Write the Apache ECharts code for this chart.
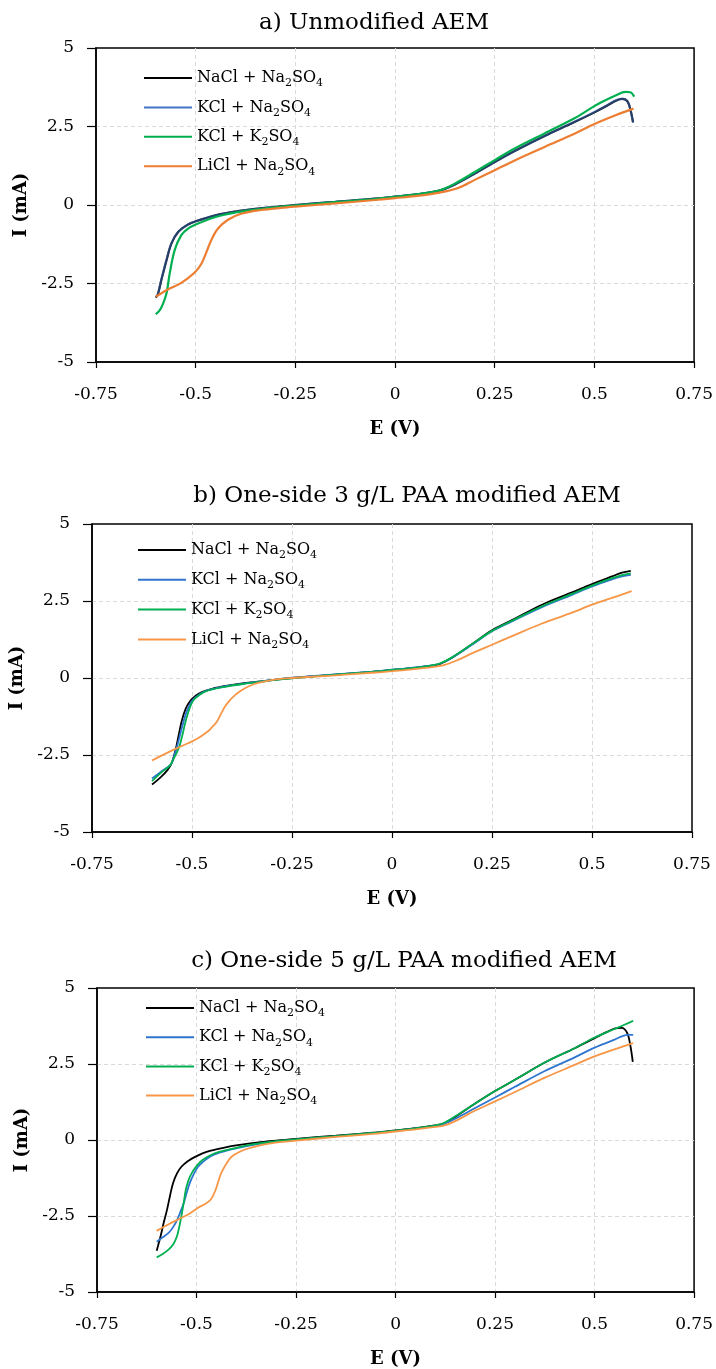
<!DOCTYPE html>
<html>
<head>
<meta charset="utf-8">
<script src="https://cdn.jsdelivr.net/npm/echarts@6/dist/echarts.min.js"></script>
<style>
  html, body { margin: 0; padding: 0; background: #fff; }
  #main { width: 716px; height: 1369px; }
</style>
</head>
<body>
<div id="main"></div>
<script>
// 数据: [E (V), I (mA)]
// a) Unmodified AEM
var NaCl_a = [[-0.6,-2.95],[-0.595,-2.85],[-0.586,-2.38],[-0.573,-1.75],[-0.561,-1.23],[-0.544,-0.86],[-0.519,-0.62],[-0.5,-0.52],[-0.45,-0.33],[-0.4,-0.21],[-0.35,-0.125],[-0.3,-0.06],[-0.25,0.0],[-0.15,0.1],[-0.05,0.2],[0,0.27],[0.05,0.33],[0.1,0.43],[0.12,0.49],[0.15,0.65],[0.2,1.0],[0.25,1.37],[0.3,1.72],[0.375,2.2],[0.45,2.64],[0.5,2.95],[0.53,3.15],[0.555,3.33],[0.57,3.38],[0.583,3.3],[0.591,3.0],[0.597,2.63]];
var KCl_a = [[-0.6,-2.93],[-0.595,-2.84],[-0.586,-2.37],[-0.573,-1.74],[-0.561,-1.22],[-0.544,-0.86],[-0.519,-0.62],[-0.5,-0.52],[-0.45,-0.33],[-0.4,-0.21],[-0.35,-0.12],[-0.3,-0.06],[-0.25,0.0],[-0.15,0.1],[-0.05,0.2],[0,0.27],[0.05,0.33],[0.1,0.43],[0.12,0.49],[0.15,0.65],[0.2,1.0],[0.25,1.37],[0.3,1.72],[0.375,2.2],[0.45,2.65],[0.5,2.96],[0.53,3.16],[0.555,3.34],[0.57,3.38],[0.583,3.3],[0.591,3.0],[0.597,2.62]];
var K2SO4_a = [[-0.6,-3.48],[-0.59,-3.35],[-0.582,-3.15],[-0.573,-2.8],[-0.565,-2.17],[-0.5525,-1.43],[-0.536,-0.96],[-0.52,-0.76],[-0.5,-0.62],[-0.45,-0.38],[-0.4,-0.24],[-0.35,-0.145],[-0.3,-0.075],[-0.25,-0.02],[-0.15,0.09],[-0.05,0.19],[0,0.26],[0.05,0.33],[0.1,0.43],[0.12,0.5],[0.15,0.68],[0.2,1.05],[0.25,1.43],[0.3,1.8],[0.375,2.28],[0.45,2.76],[0.5,3.15],[0.53,3.35],[0.553,3.49],[0.578,3.6],[0.59,3.59],[0.6,3.45]];
var LiCl_a = [[-0.6,-2.92],[-0.57,-2.69],[-0.536,-2.48],[-0.5025,-2.15],[-0.486,-1.88],[-0.473,-1.5],[-0.461,-1.12],[-0.444,-0.75],[-0.419,-0.47],[-0.386,-0.28],[-0.336,-0.16],[-0.286,-0.09],[-0.25,-0.05],[-0.15,0.05],[-0.05,0.16],[0,0.22],[0.05,0.28],[0.1,0.37],[0.13,0.44],[0.16,0.55],[0.2,0.8],[0.25,1.11],[0.3,1.42],[0.375,1.85],[0.45,2.27],[0.5,2.58],[0.553,2.86],[0.598,3.07]];

// b) One-side 3 g/L PAA modified AEM
var NaCl_b = [[-0.6,-3.46],[-0.578,-3.22],[-0.562,-3.0],[-0.552,-2.8],[-0.542,-2.38],[-0.534,-1.9],[-0.526,-1.41],[-0.516,-1.0],[-0.505,-0.76],[-0.49,-0.57],[-0.474,-0.45],[-0.45,-0.35],[-0.411,-0.25],[-0.37,-0.17],[-0.328,-0.11],[-0.29,-0.05],[-0.25,0.0],[-0.15,0.1],[-0.05,0.2],[0,0.26],[0.05,0.32],[0.1,0.4],[0.12,0.46],[0.15,0.66],[0.2,1.1],[0.25,1.55],[0.3,1.88],[0.375,2.38],[0.45,2.78],[0.5,3.05],[0.55,3.3],[0.575,3.42],[0.597,3.48]];
var KCl_b = [[-0.6,-3.26],[-0.575,-3.02],[-0.552,-2.79],[-0.544,-2.5],[-0.536,-2.16],[-0.526,-1.65],[-0.516,-1.19],[-0.505,-0.85],[-0.495,-0.67],[-0.48,-0.52],[-0.469,-0.44],[-0.45,-0.36],[-0.411,-0.26],[-0.37,-0.18],[-0.328,-0.11],[-0.29,-0.05],[-0.25,0.01],[-0.15,0.11],[-0.05,0.21],[0,0.27],[0.05,0.33],[0.1,0.41],[0.12,0.47],[0.15,0.66],[0.2,1.08],[0.25,1.52],[0.3,1.84],[0.375,2.3],[0.45,2.7],[0.5,2.97],[0.55,3.2],[0.575,3.3],[0.597,3.35]];
var K2SO4_b = [[-0.6,-3.35],[-0.575,-3.05],[-0.556,-2.85],[-0.547,-2.65],[-0.539,-2.45],[-0.531,-2.2],[-0.523,-1.8],[-0.516,-1.41],[-0.505,-0.95],[-0.495,-0.7],[-0.48,-0.54],[-0.469,-0.45],[-0.45,-0.37],[-0.411,-0.27],[-0.37,-0.19],[-0.328,-0.12],[-0.29,-0.06],[-0.25,-0.01],[-0.15,0.1],[-0.05,0.2],[0,0.26],[0.05,0.32],[0.1,0.41],[0.12,0.47],[0.15,0.67],[0.2,1.1],[0.25,1.53],[0.3,1.86],[0.375,2.33],[0.45,2.73],[0.5,3.0],[0.55,3.24],[0.575,3.34],[0.597,3.4]];
var LiCl_b = [[-0.6,-2.68],[-0.57,-2.48],[-0.536,-2.27],[-0.51,-2.12],[-0.484,-1.95],[-0.465,-1.78],[-0.453,-1.64],[-0.4375,-1.41],[-0.427,-1.15],[-0.417,-0.92],[-0.405,-0.72],[-0.391,-0.54],[-0.37,-0.35],[-0.349,-0.22],[-0.32,-0.12],[-0.286,-0.04],[-0.25,0.0],[-0.15,0.08],[-0.05,0.17],[0,0.22],[0.05,0.28],[0.1,0.35],[0.13,0.42],[0.16,0.56],[0.2,0.8],[0.25,1.08],[0.3,1.36],[0.375,1.77],[0.45,2.12],[0.5,2.38],[0.55,2.6],[0.599,2.82]];

// c) One-side 5 g/L PAA modified AEM
var NaCl_c = [[-0.6,-3.64],[-0.595,-3.4],[-0.59,-3.15],[-0.582,-2.7],[-0.574,-2.29],[-0.566,-1.8],[-0.559,-1.42],[-0.549,-1.1],[-0.538,-0.88],[-0.52,-0.68],[-0.506,-0.57],[-0.485,-0.44],[-0.464,-0.35],[-0.43,-0.25],[-0.401,-0.18],[-0.37,-0.12],[-0.339,-0.07],[-0.3,-0.02],[-0.25,0.04],[-0.15,0.14],[-0.05,0.25],[0,0.32],[0.05,0.39],[0.1,0.48],[0.12,0.54],[0.15,0.76],[0.2,1.2],[0.25,1.61],[0.3,1.98],[0.375,2.55],[0.45,3.02],[0.5,3.35],[0.53,3.55],[0.552,3.67],[0.568,3.69],[0.582,3.52],[0.59,3.1],[0.596,2.57]];
var KCl_c = [[-0.6,-3.35],[-0.585,-3.2],[-0.569,-3.04],[-0.558,-2.85],[-0.548,-2.61],[-0.54,-2.35],[-0.532,-2.07],[-0.525,-1.75],[-0.517,-1.42],[-0.507,-1.12],[-0.496,-0.88],[-0.48,-0.68],[-0.464,-0.53],[-0.443,-0.42],[-0.422,-0.34],[-0.38,-0.22],[-0.339,-0.12],[-0.3,-0.05],[-0.25,0.01],[-0.15,0.12],[-0.05,0.23],[0,0.3],[0.05,0.37],[0.1,0.46],[0.12,0.52],[0.15,0.7],[0.2,1.05],[0.25,1.4],[0.3,1.75],[0.375,2.27],[0.45,2.72],[0.5,3.04],[0.55,3.3],[0.57,3.42],[0.584,3.46],[0.597,3.46]];
var K2SO4_c = [[-0.6,-3.86],[-0.585,-3.75],[-0.569,-3.59],[-0.558,-3.42],[-0.55,-3.2],[-0.544,-2.9],[-0.538,-2.5],[-0.532,-2.05],[-0.527,-1.64],[-0.52,-1.32],[-0.512,-1.09],[-0.5,-0.86],[-0.485,-0.66],[-0.465,-0.5],[-0.443,-0.39],[-0.4,-0.26],[-0.37,-0.17],[-0.33,-0.09],[-0.3,-0.04],[-0.25,0.02],[-0.15,0.13],[-0.05,0.24],[0,0.31],[0.05,0.38],[0.1,0.48],[0.12,0.55],[0.15,0.78],[0.2,1.2],[0.25,1.61],[0.3,1.98],[0.375,2.55],[0.45,3.02],[0.5,3.37],[0.55,3.65],[0.575,3.79],[0.597,3.92]];
var LiCl_c = [[-0.6,-2.99],[-0.57,-2.77],[-0.538,-2.56],[-0.515,-2.4],[-0.496,-2.23],[-0.478,-2.1],[-0.464,-1.96],[-0.452,-1.64],[-0.445,-1.35],[-0.438,-1.09],[-0.425,-0.78],[-0.412,-0.55],[-0.39,-0.38],[-0.37,-0.28],[-0.345,-0.19],[-0.318,-0.12],[-0.285,-0.06],[-0.25,-0.02],[-0.15,0.1],[-0.05,0.21],[0,0.28],[0.05,0.35],[0.1,0.43],[0.123,0.48],[0.15,0.62],[0.2,0.97],[0.25,1.27],[0.3,1.58],[0.375,2.05],[0.45,2.47],[0.5,2.75],[0.55,2.98],[0.597,3.19]];

var titles = ['a) Unmodified AEM', 'b) One-side 3 g/L PAA modified AEM', 'c) One-side 5 g/L PAA modified AEM'];
var seriesNames = ['NaCl + Na2SO4', 'KCl + Na2SO4', 'KCl + K2SO4', 'LiCl + Na2SO4'];
// 图例文字 (下标)
var legendText = {
    'NaCl + Na2SO4': '{n|NaCl + Na}{s|2}{n|SO}{s|4}',
    'KCl + Na2SO4': '{n|KCl + Na}{s|2}{n|SO}{s|4}',
    'KCl + K2SO4': '{n|KCl + K}{s|2}{n|SO}{s|4}',
    'LiCl + Na2SO4': '{n|LiCl + Na}{s|2}{n|SO}{s|4}'
};

var SERIF = '"DejaVu Serif", serif';

var panels = [
    {key: 'a', data: [NaCl_a, KCl_a, K2SO4_a, LiCl_a],
     colors: ['#000000', '#4472C4', '#00B050', '#ED7D31'],
     grid: {left: 96, top: 48, width: 600, height: 314},
     titleX: 374, titleY: 12, legendX: 144, legendY: 70, legendGap: 10.4},
    {key: 'b', data: [NaCl_b, KCl_b, K2SO4_b, LiCl_b],
     colors: ['#000000', '#2E75D0', '#00B050', '#F79646'],
     grid: {left: 92, top: 524, width: 600, height: 308},
     titleX: 407, titleY: 485, legendX: 138, legendY: 542, legendGap: 10.8},
    {key: 'c', data: [NaCl_c, KCl_c, K2SO4_c, LiCl_c],
     colors: ['#000000', '#2E75D0', '#00B050', '#F79646'],
     grid: {left: 97, top: 988, width: 600, height: 308},
     titleX: 404, titleY: 950, legendX: 146, legendY: 1000, legendGap: 10.2}
];

var option = {
    backgroundColor: '#fff',
    animation: false,
    title: [], grid: [], xAxis: [], yAxis: [], legend: [], series: []
};

panels.forEach(function (p, i) {
    option.title.push({
        text: titles[i], left: p.titleX, top: p.titleY, textAlign: 'center', padding: 0,
        textStyle: {fontFamily: SERIF, fontSize: 23, fontWeight: 'normal', color: '#000'}
    });
    option.grid.push({
        left: p.grid.left, top: p.grid.top, width: p.grid.width, height: p.grid.height,
        show: true, borderColor: '#000', borderWidth: 1.5, backgroundColor: '#fff'
    });
    option.xAxis.push({
        gridIndex: i, type: 'value', min: -0.75, max: 0.75, interval: 0.25,
        name: 'E (V)', nameLocation: 'middle', nameGap: 58,
        nameTextStyle: {fontFamily: SERIF, fontSize: 18, fontWeight: 'bold', color: '#000'},
        axisLine: {onZero: false, lineStyle: {color: '#000', width: 1.5}},
        axisTick: {show: true, inside: false, length: 6, lineStyle: {color: '#000', width: 1.2}},
        axisLabel: {margin: 24, fontFamily: SERIF, fontSize: 17, color: '#000'},
        splitLine: {show: true, showMinLine: false, showMaxLine: false,
                    lineStyle: {color: '#d9d9d9', type: [4, 3], width: 1}}
    });
    option.yAxis.push({
        gridIndex: i, type: 'value', min: -5, max: 5, interval: 2.5,
        name: 'I (mA)', nameLocation: 'middle', nameGap: 55,
        nameTextStyle: {fontFamily: SERIF, fontSize: 18, fontWeight: 'bold', color: '#000'},
        axisLine: {onZero: false, lineStyle: {color: '#000', width: 1.5}},
        axisTick: {show: true, inside: false, length: 9, lineStyle: {color: '#000', width: 1.2}},
        axisLabel: {margin: 22, fontFamily: SERIF, fontSize: 17, color: '#000'},
        splitLine: {show: true, showMinLine: false, showMaxLine: false,
                    lineStyle: {color: '#d9d9d9', type: [4, 3], width: 1}}
    });
    var names = seriesNames.map(function (n) { return n + '#' + p.key; });
    option.legend.push({
        orient: 'vertical', left: p.legendX, top: p.legendY, padding: 0,
        itemWidth: 48, itemHeight: 2, itemGap: p.legendGap,
        data: names.map(function (n, k) {
            return {name: n, icon: 'rect', itemStyle: {color: p.colors[k], opacity: 1}};
        }),
        formatter: function (name) { return legendText[name.split('#')[0]]; },
        textStyle: {
            color: '#000',
            rich: {
                n: {fontFamily: SERIF, fontSize: 16, color: '#000', lineHeight: 22, verticalAlign: 'middle'},
                s: {fontFamily: SERIF, fontSize: 11, color: '#000', lineHeight: 12, verticalAlign: 'bottom'}
            }
        }
    });
    p.data.forEach(function (d, k) {
        option.series.push({
            name: names[k], type: 'line', xAxisIndex: i, yAxisIndex: i,
            data: d, symbol: 'none', smooth: 0.35,
            color: p.colors[k],
            lineStyle: {color: p.colors[k], width: (i === 0 ? 2.2 : 1.8),
                        opacity: (i === 0 && k === 1 ? 0.55 : 1)},
            z: 3 + k
        });
    });
});

var chart = echarts.init(document.getElementById('main'));
chart.setOption(option);
</script>
</body>
</html>
